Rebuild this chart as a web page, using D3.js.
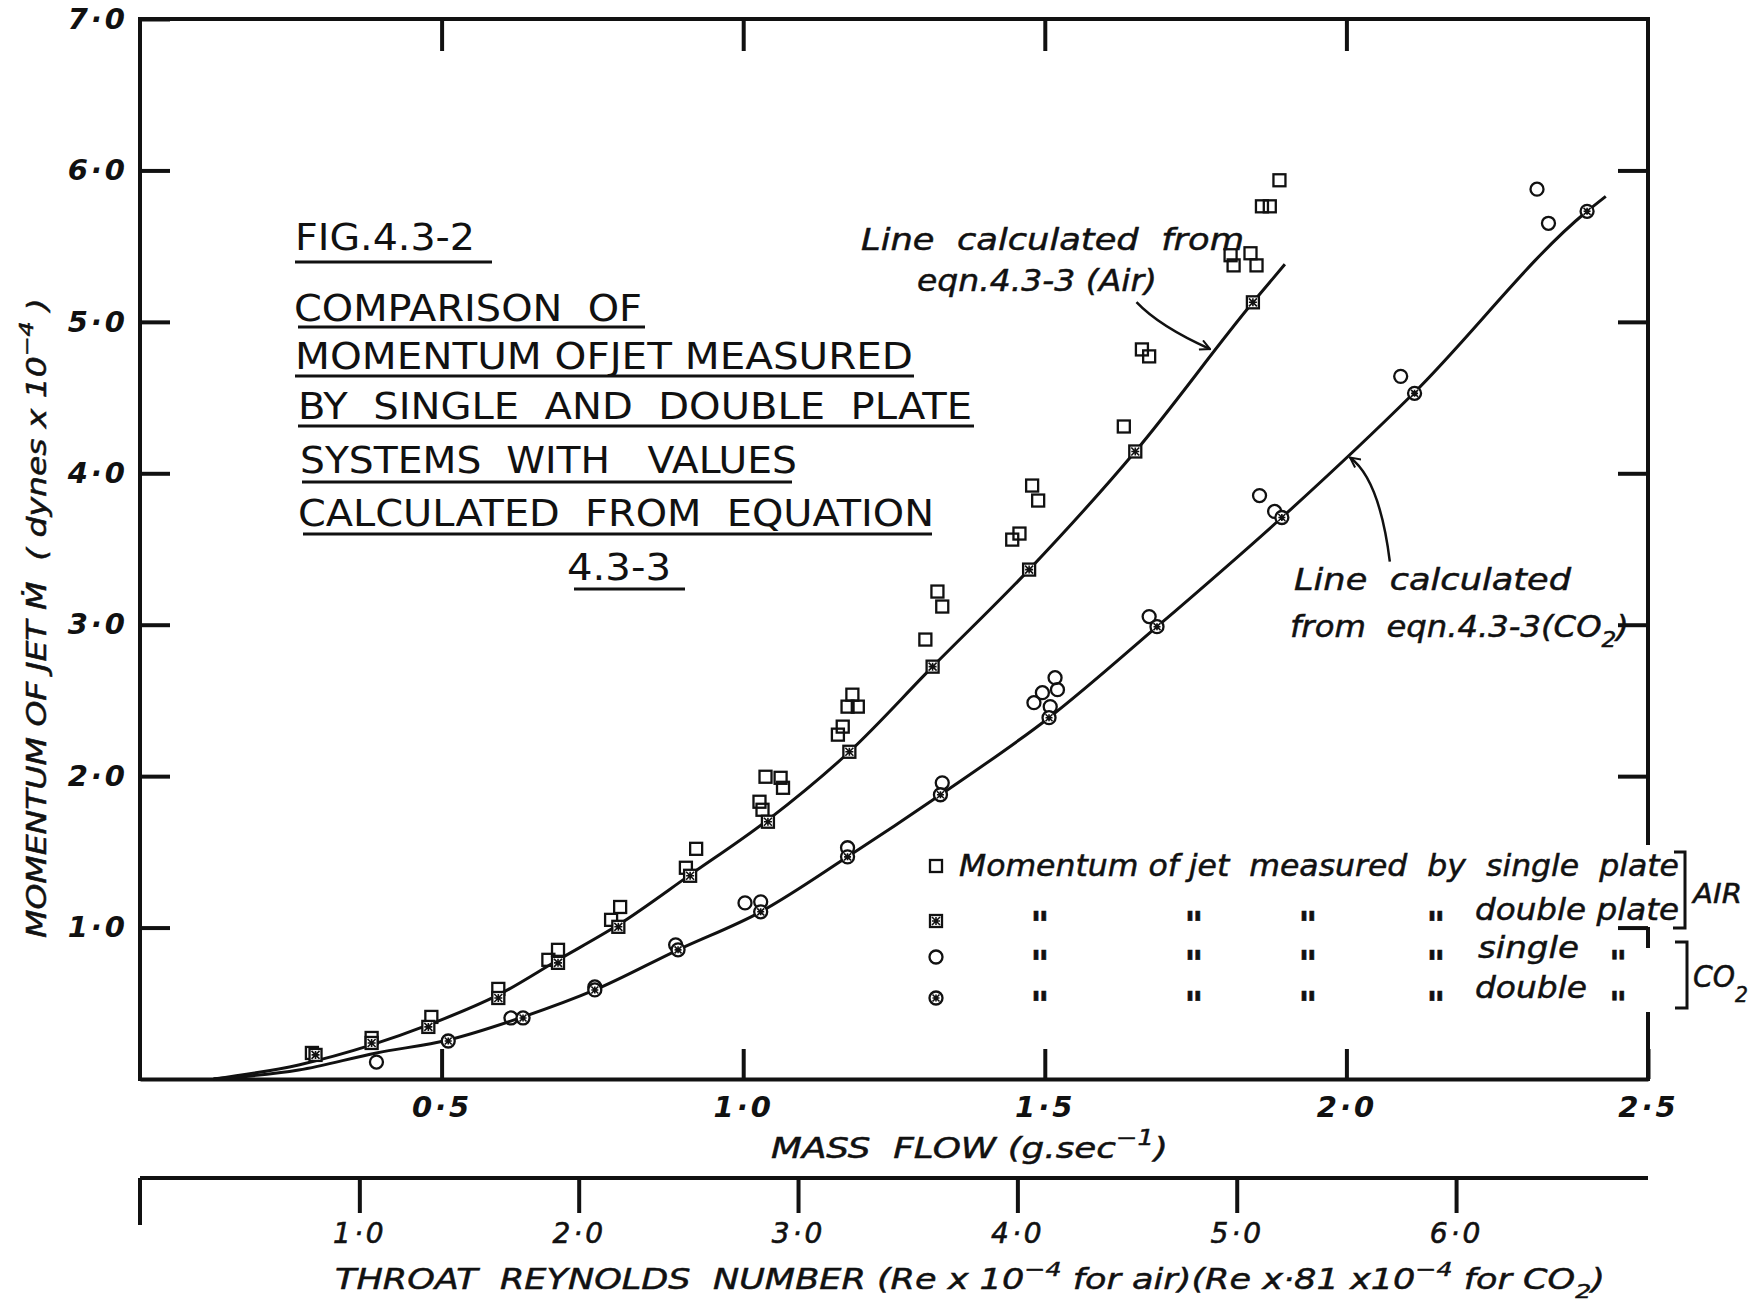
<!DOCTYPE html>
<html>
<head>
<meta charset="utf-8">
<script src="https://cdn.jsdelivr.net/npm/d3@7"></script>
<style>
  html, body { margin: 0; padding: 0; background: #fff; }
  svg { display: block; }
  text { fill: #111; white-space: pre; }
</style>
</head>
<body>
<svg id="chart" width="1753" height="1304"></svg>
<script>
// ---------- tick values ----------
const momentumTicks = [1, 2, 3, 4, 5, 6, 7];
const flowTicks = [0.5, 1.0, 1.5, 2.0, 2.5];
const innerFlowTicks = [0.5, 1.0, 1.5, 2.0];
const reynoldsTicks = [1, 2, 3, 4, 5, 6];
const reynoldsPerFlow = 2.75;   // Re x 10^-4 per g/sec of mass flow

// ---------- calculated lines (eqn. 4.3-3) ----------
const airLineFlow     = [0.122, 0.263, 0.384, 0.478, 0.594, 0.693, 0.793, 0.912, 1.041, 1.176, 1.314, 1.474, 1.650, 1.845, 1.898];
const airLineMomentum = [0.000, 0.093, 0.225, 0.357, 0.555, 0.786, 1.018, 1.348, 1.711, 2.161, 2.723, 3.364, 4.144, 5.129, 5.380];

const co2LineFlow     = [0.122, 0.263, 0.392, 0.511, 0.635, 0.754, 0.892, 1.029, 1.173, 1.327, 1.507, 1.686, 1.893, 2.111, 2.397, 2.430];
const co2LineMomentum = [0.000, 0.059, 0.172, 0.258, 0.410, 0.588, 0.853, 1.104, 1.467, 1.877, 2.386, 2.987, 3.708, 4.527, 5.724, 5.829];

// ---------- measured momentum, air ----------
const airSingleFlow     = [0.285, 0.384, 0.483, 0.594, 0.693, 0.677, 0.796, 0.781, 0.922, 0.905, 1.037, 1.062, 1.066, 1.027, 1.032,
                           1.181, 1.173, 1.190, 1.165, 1.157, 1.302, 1.322, 1.330, 1.446, 1.458, 1.479, 1.489, 1.631, 1.661, 1.673,
                           1.808, 1.813, 1.841, 1.851, 1.860, 1.873, 1.889];
const airSingleMomentum = [0.172, 0.271, 0.410, 0.595, 0.853, 0.787, 1.136, 1.051, 1.520, 1.395, 1.996, 1.989, 1.923, 1.831, 1.778,
                           2.538, 2.459, 2.459, 2.327, 2.274, 2.902, 3.219, 3.120, 3.562, 3.602, 3.919, 3.820, 4.309, 4.818, 4.772,
                           5.440, 5.373, 5.453, 5.373, 5.763, 5.763, 5.935];

const airDoubleFlow     = [0.291, 0.384, 0.478, 0.594, 0.693, 0.793, 0.912, 1.041, 1.176, 1.314, 1.474, 1.650, 1.845];
const airDoubleMomentum = [0.159, 0.238, 0.344, 0.535, 0.767, 1.005, 1.342, 1.699, 2.161, 2.723, 3.364, 4.144, 5.129];

// ---------- measured momentum, CO2 ----------
const co2SingleFlow     = [0.392, 0.615, 0.754, 0.888, 1.003, 1.029, 1.173, 1.330, 1.482, 1.496, 1.509, 1.517, 1.521, 1.673,
                           1.856, 1.881, 2.090, 2.316, 2.335];
const co2SingleMomentum = [0.112, 0.403, 0.608, 0.886, 1.163, 1.170, 1.527, 1.956, 2.485, 2.551, 2.459, 2.650, 2.571, 3.054,
                           3.853, 3.748, 4.640, 5.876, 5.651];

const co2DoubleFlow     = [0.511, 0.635, 0.754, 0.892, 1.029, 1.173, 1.327, 1.507, 1.686, 1.893, 2.113, 2.399];
const co2DoubleMomentum = [0.251, 0.403, 0.588, 0.853, 1.104, 1.467, 1.877, 2.386, 2.987, 3.708, 4.528, 5.730];

// ---------- text ----------
const figTitleLines = [
  "FIG.4.3-2",
  "COMPARISON  OF",
  "MOMENTUM OFJET MEASURED",
  "BY  SINGLE  AND  DOUBLE  PLATE",
  "SYSTEMS  WITH   VALUES",
  "CALCULATED  FROM  EQUATION",
  "4.3-3"
];

// ---------- setup ----------
const svg = d3.select("#chart");
const INK = "#111";
const ITALIC = "'DejaVu Sans', 'Liberation Sans', sans-serif";
const UPRIGHT = "'DejaVu Sans', 'Liberation Sans', sans-serif";

const x = d3.scaleLinear().domain([0, 2.5]).range([140, 1648]);
const y = d3.scaleLinear().domain([0, 7]).range([1079, 19]);
const re = d3.scaleLinear().domain([0, 2.5 * reynoldsPerFlow]).range([140, 1648]);
const reAxisY = 1178;

const fmt = d => d3.format(".1f")(d).replace(".", "\u00b7");
const zip = (a, b) => a.map((v, i) => [v, b[i]]);

function styleAxis(g, fontSize, weight = "bold") {
  g.attr("font-family", ITALIC).attr("font-size", fontSize).attr("font-style", "italic").attr("font-weight", weight);
  g.selectAll("path.domain").attr("stroke", INK).attr("stroke-width", 4);
  g.selectAll(".tick line").attr("stroke", INK).attr("stroke-width", 4);
  g.selectAll(".tick text").attr("fill", INK).attr("letter-spacing", 3);
}

// left (momentum) axis, ticks pointing inward
const gLeft = svg.append("g").attr("transform", `translate(${x(0)},0)`)
  .call(d3.axisLeft(y).tickValues(momentumTicks).tickSizeInner(-30).tickSizeOuter(0)
        .tickPadding(12).tickFormat(fmt));
styleAxis(gLeft, 29);
gLeft.select("path.domain").attr("d", `M0,${y(0) + 2}V${y(7) - 2}`);

// bottom (mass flow) axis
const gBottom = svg.append("g").attr("transform", `translate(0,${y(0)})`)
  .call(d3.axisBottom(x).tickValues(flowTicks).tickSizeInner(-30).tickSizeOuter(0)
        .tickPadding(17).tickFormat(fmt));
styleAxis(gBottom, 29);

// top border with inward ticks
const gTop = svg.append("g").attr("transform", `translate(0,${y(7)})`)
  .call(d3.axisTop(x).tickValues(innerFlowTicks).tickSizeInner(-32).tickSizeOuter(0).tickFormat(""));
styleAxis(gTop, 29);
gTop.select("path.domain").attr("d", `M${x(0) - 2},0H${x(2.5) + 2}`);

// right border with inward ticks; the border is broken where the legend runs into it
const gRight = svg.append("g").attr("transform", `translate(${x(2.5)},0)`)
  .call(d3.axisRight(y).tickValues(momentumTicks.slice(0, 6)).tickSizeInner(-30).tickSizeOuter(0).tickFormat(""));
styleAxis(gRight, 29);
gRight.select("path.domain").remove();
const rightBorderSpans = [[y(7) - 2, 845], [927, 948], [1012, y(0) + 2]];
gRight.selectAll("line.border").data(rightBorderSpans).join("line")
  .attr("class", "border").attr("x1", 0).attr("x2", 0)
  .attr("y1", d => d[0]).attr("y2", d => d[1])
  .attr("stroke", INK).attr("stroke-width", 4);

// throat Reynolds number axis
const gRe = svg.append("g").attr("transform", `translate(0,${reAxisY})`)
  .call(d3.axisBottom(re).tickValues(reynoldsTicks).tickSizeInner(35).tickSizeOuter(0)
        .tickPadding(10).tickFormat(fmt));
styleAxis(gRe, 28, "normal");
gRe.selectAll(".tick text").attr("stroke", INK).attr("stroke-width", 0.6);
gRe.select("path.domain").attr("d", `M${re(0)},0H${x(2.5)}`);
gRe.append("line").attr("x1", re(0)).attr("x2", re(0)).attr("y1", 0).attr("y2", 47)
  .attr("stroke", INK).attr("stroke-width", 4);

// ---------- calculated lines ----------
const line = d3.line().x(d => x(d[0])).y(d => y(d[1])).curve(d3.curveMonotoneX);
svg.append("path").attr("d", line(zip(airLineFlow, airLineMomentum)))
  .attr("fill", "none").attr("stroke", INK).attr("stroke-width", 3);
svg.append("path").attr("d", line(zip(co2LineFlow, co2LineMomentum)))
  .attr("fill", "none").attr("stroke", INK).attr("stroke-width", 3);

// ---------- symbols ----------
const S = 6;   // half size of the plotting symbols
function square(g, cx, cy) {
  g.append("rect").attr("x", cx - S).attr("y", cy - S).attr("width", 2 * S).attr("height", 2 * S)
    .attr("fill", "none").attr("stroke", INK).attr("stroke-width", 2.3);
}
function circle(g, cx, cy) {
  g.append("circle").attr("cx", cx).attr("cy", cy).attr("r", S + 0.5)
    .attr("fill", "none").attr("stroke", INK).attr("stroke-width", 2.3);
}
function star(g, cx, cy, r) {
  const p = `M${cx - r},${cy - r}L${cx + r},${cy + r}M${cx - r},${cy + r}L${cx + r},${cy - r}` +
            `M${cx},${cy - r}L${cx},${cy + r}M${cx - r},${cy}L${cx + r},${cy}`;
  g.append("path").attr("d", p).attr("stroke", INK).attr("stroke-width", 1.6).attr("fill", "none");
}
const symbols = {
  airSingle: (g, cx, cy) => square(g, cx, cy),
  airDouble: (g, cx, cy) => { g.append("rect").attr("x", cx - S).attr("y", cy - S).attr("width", 2 * S).attr("height", 2 * S).attr("fill", "#fff"); square(g, cx, cy); star(g, cx, cy, S - 2); },
  co2Single: (g, cx, cy) => circle(g, cx, cy),
  co2Double: (g, cx, cy) => { g.append("circle").attr("cx", cx).attr("cy", cy).attr("r", S).attr("fill", "#fff"); circle(g, cx, cy); star(g, cx, cy, S - 2.5); }
};

function plotSeries(flow, momentum, kind) {
  const g = svg.append("g").attr("class", kind);
  zip(flow, momentum).forEach(([f, m]) => symbols[kind](g, x(f), y(m)));
}
plotSeries(airSingleFlow, airSingleMomentum, "airSingle");
plotSeries(airDoubleFlow, airDoubleMomentum, "airDouble");
plotSeries(co2SingleFlow, co2SingleMomentum, "co2Single");
plotSeries(co2DoubleFlow, co2DoubleMomentum, "co2Double");

// ---------- text helpers ----------
function txt(xp, yp, str, size, len, opts = {}) {
  const t = svg.append("text").attr("x", xp).attr("y", yp)
    .attr("font-family", opts.upright ? UPRIGHT : ITALIC)
    .attr("font-style", opts.upright ? "normal" : "italic")
    .attr("font-size", size).attr("fill", INK).text(str);
  if (!opts.upright) t.attr("stroke", INK).attr("stroke-width", 0.5);
  if (opts.bold) t.attr("font-weight", "bold");
  if (len) t.attr("textLength", len).attr("lengthAdjust", "spacingAndGlyphs");
  if (opts.anchor) t.attr("text-anchor", opts.anchor);
  return t;
}
// text made of [string, shift] pieces; shift < 0 raises (superscript), > 0 lowers (subscript)
function richTxt(parent, xp, yp, pieces, size, len, anchor) {
  const t = parent.append("text").attr("x", xp).attr("y", yp)
    .attr("font-family", ITALIC).attr("font-style", "italic")
    .attr("font-size", size).attr("fill", INK)
    .attr("stroke", INK).attr("stroke-width", 0.5);
  if (anchor) t.attr("text-anchor", anchor);
  let cur = 0;
  pieces.forEach(([s, shift]) => {
    const sp = t.append("tspan").attr("dy", shift - cur).text(s);
    if (shift !== 0) sp.attr("font-size", size * 0.72);
    cur = shift;
  });
  if (len) t.attr("textLength", len).attr("lengthAdjust", "spacingAndGlyphs");
  return t;
}

// ---------- figure title block ----------
const titleLayout = [
  { x: 295, y: 250, len: 180, u: [295, 492, 262] },
  { x: 294, y: 321, len: 348, u: [298, 645, 327] },
  { x: 295, y: 369, len: 618, u: [295, 914, 376] },
  { x: 298, y: 419, len: 674, u: [298, 974, 426] },
  { x: 300, y: 473, len: 497, u: [302, 792, 482] },
  { x: 298, y: 526, len: 636, u: [303, 932, 534] },
  { x: 567, y: 580, len: 104, u: [574, 685, 589] }
];
figTitleLines.forEach((s, i) => {
  const L = titleLayout[i];
  txt(L.x, L.y, s, 38, L.len, { upright: true });
  svg.append("line").attr("x1", L.u[0]).attr("x2", L.u[1]).attr("y1", L.u[2]).attr("y2", L.u[2])
    .attr("stroke", INK).attr("stroke-width", 3);
});

// ---------- axis titles ----------
const yTitle = svg.append("g").attr("transform", "translate(46,618) rotate(-90)");
richTxt(yTitle, 0, 0, [["MOMENTUM OF JET \u1e40  ( dynes x 10", 0], ["\u22124", -13], [" )", 0]], 26, 640, "middle");

richTxt(svg, 771, 1158, [["MASS  FLOW (g.sec", 0], ["\u22121", -13], [")", 0]], 29, 397);

richTxt(svg, 335, 1289, [["THROAT  REYNOLDS  NUMBER (Re x 10", 0], ["\u22124", -13], [" for air)(Re x\u00b781 x10", 0],
                         ["\u22124", -13], [" for CO", 0], ["2", 9], [")", 0]], 28, 1270);

// ---------- annotations ----------
txt(861, 250, "Line  calculated  from", 30, 383);
txt(917, 291, "eqn.4.3-3 (Air)", 30, 240);
txt(1294, 590, "Line  calculated", 30, 277);
richTxt(svg, 1290, 637, [["from  eqn.4.3-3(CO", 0], ["2", 10], [")", 0]], 30, 339);

svg.append("defs").append("marker").attr("id", "head")
  .attr("viewBox", "0 0 12 12").attr("refX", 11).attr("refY", 6)
  .attr("markerWidth", 12).attr("markerHeight", 12).attr("markerUnits", "userSpaceOnUse")
  .attr("orient", "auto")
  .append("path").attr("d", "M1,1L11,6L1,11").attr("fill", "none").attr("stroke", INK).attr("stroke-width", 2);

// arrows pointing from the notes onto the two calculated lines
const airArrowFrom = [x(1.652), y(5.13)], airArrowTo = [x(1.774), y(4.82)];
svg.append("path")
  .attr("d", `M${airArrowFrom}Q${x(1.69)},${y(4.97)} ${airArrowTo}`)
  .attr("fill", "none").attr("stroke", INK).attr("stroke-width", 2.5).attr("marker-end", "url(#head)");
const co2ArrowFrom = [x(2.072), y(3.417)], co2ArrowTo = [x(2.006), y(4.104)];
svg.append("path")
  .attr("d", `M${co2ArrowFrom}Q${x(2.055)},${y(3.96)} ${co2ArrowTo}`)
  .attr("fill", "none").attr("stroke", INK).attr("stroke-width", 2.5).attr("marker-end", "url(#head)");

// ---------- legend ----------
const legendSymbolX = 936;
const legendRows = [
  { kind: "airSingle", cy: 866 },
  { kind: "airDouble", cy: 921 },
  { kind: "co2Single", cy: 957 },
  { kind: "co2Double", cy: 998 }
];
const legendG = svg.append("g");
legendRows.forEach(r => symbols[r.kind](legendG, legendSymbolX, r.cy));

txt(959, 876, "Momentum of jet  measured  by  single  plate", 30, 720);
const dittoX = [1040, 1194, 1308, 1436];
[917, 956, 997].forEach(cy => dittoX.forEach(dx => txt(dx, cy + 20, "\"", 36, null, { anchor: "middle", bold: true })));
txt(1475, 920, "double plate", 30, 204);
txt(1478, 958, "single", 30, 101);
txt(1618, 975, "\"", 34, null, { anchor: "middle", bold: true });
txt(1475, 998, "double", 30, 112);
txt(1618, 1016, "\"", 34, null, { anchor: "middle", bold: true });

// gas brackets
svg.append("path").attr("d", "M1674,852H1685V928H1673")
  .attr("fill", "none").attr("stroke", INK).attr("stroke-width", 3);
svg.append("path").attr("d", "M1675,942H1687V1008H1675")
  .attr("fill", "none").attr("stroke", INK).attr("stroke-width", 3);
txt(1693, 903, "AIR", 27, 49);
richTxt(svg, 1693, 987, [["CO", 0], ["2", 15]], 30, 55);
</script>
</body>
</html>
